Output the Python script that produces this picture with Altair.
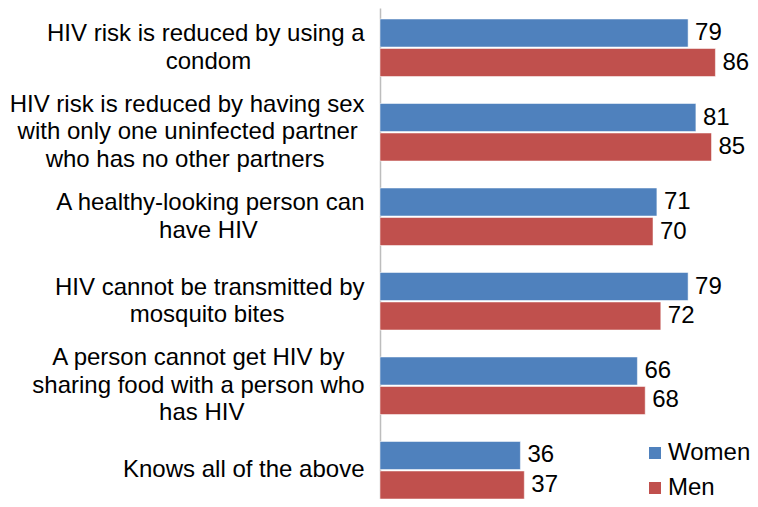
import altair as alt
import pandas as pd

# ---- data ----
statements = [
    "HIV risk is reduced by using a\ncondom",
    "HIV risk is reduced by having sex\nwith only one uninfected partner\nwho has no other partners",
    "A healthy-looking person can\nhave HIV",
    "HIV cannot be transmitted by\nmosquito bites",
    "A person cannot get HIV by\nsharing food with a person who\nhas HIV",
    "Knows all of the above",
]
series = ["Women", "Men"]
women = [79, 81, 71, 79, 66, 36]
men = [86, 85, 70, 72, 68, 37]
colors = ["#4F81BD", "#C0504D"]

FONT = "Liberation Sans"
FS = 24
LH = 27.5

# Arial / Liberation Sans advance widths (per 1000 em) used to centre the
# shorter lines of each label block under its widest line
_W = {" ": 278, "-": 333, "A": 667, "H": 722, "I": 278, "K": 667, "V": 667,
      "a": 556, "b": 556, "c": 500, "d": 556, "e": 556, "f": 278, "g": 556,
      "h": 556, "i": 222, "k": 500, "l": 222, "m": 833, "n": 556, "o": 556,
      "p": 556, "q": 556, "r": 333, "s": 500, "t": 278, "u": 556, "v": 500,
      "w": 722, "x": 500, "y": 500}


def centred(label):
    lines = label.split("\n")
    widths = [sum(_W.get(c, 556) for c in ln) for ln in lines]
    wmax = max(widths)
    out = []
    for ln, w in zip(lines, widths):
        n = int(round((wmax - w) / 2 / 278))
        # non-breaking spaces, closed by a zero-width space so they are kept
        out.append(ln + ("\u00a0" * n + "\u200b" if n else ""))
    return "\n".join(out)


labels = [centred(s) for s in statements]

rows = []
for i, lab in enumerate(labels):
    rows.append({"statement": lab, "sex": "Women", "value": women[i]})
    rows.append({"statement": lab, "sex": "Men", "value": men[i]})
df = pd.DataFrame(rows)

y_enc = alt.Y(
    "statement:N",
    sort=labels,
    scale=alt.Scale(paddingInner=0.3195, paddingOuter=0.0651, align=1),
    axis=alt.Axis(
        title=None,
        ticks=False,
        grid=False,
        labelFont=FONT,
        labelFontSize=FS,
        labelColor="#000000",
        labelAlign="right",
        labelBaseline="middle",
        labelPadding=16,
        labelLimit=400,
        labelLineHeight=LH,
        labelExpr="split(datum.label, '\\n')",
        labelOffset={"expr": "-(length(split(datum.label, '\\n')) - 1) * %s / 2" % LH},
        domainColor="#BDBDBD",
        domainWidth=1.5,
    ),
)
yoff = alt.YOffset(
    "sex:N",
    sort=series,
    scale=alt.Scale(paddingInner=0.0508, paddingOuter=0),
)
x_enc = alt.X(
    "value:Q",
    scale=alt.Scale(domain=[0, 94.87], nice=False, zero=True),
    axis=None,
)

base = alt.Chart(df).encode(y=y_enc, yOffset=yoff, x=x_enc)

bars = base.mark_bar(stroke="white", strokeWidth=1, strokeOpacity=0.5).encode(
    color=alt.Color(
        "sex:N",
        sort=series,
        scale=alt.Scale(domain=series, range=colors),
        legend=alt.Legend(
            title=None,
            orient="none",
            legendX=263,
            legendY=433,
            symbolType="square",
            symbolSize=144,
            symbolStrokeWidth=0,
            labelFont=FONT,
            labelFontSize=FS,
            labelColor="#000000",
            labelOffset=1,
            rowPadding=11,
            padding=0,
        ),
    )
)

text = base.mark_text(
    align="left", baseline="middle", dx=7, font=FONT, fontSize=FS, color="#000000"
).encode(text=alt.Text("value:Q"))

chart = (
    alt.layer(bars, text)
    .properties(
        width=370,
        height=491,
        autosize=alt.AutoSizeParams(type="none"),
        padding={"left": 372, "top": 0, "right": 0, "bottom": 0},
        background="white",
    )
    .configure_view(stroke=None)
)

chart.save("out.html", embed_options={"renderer": "svg", "actions": False})
